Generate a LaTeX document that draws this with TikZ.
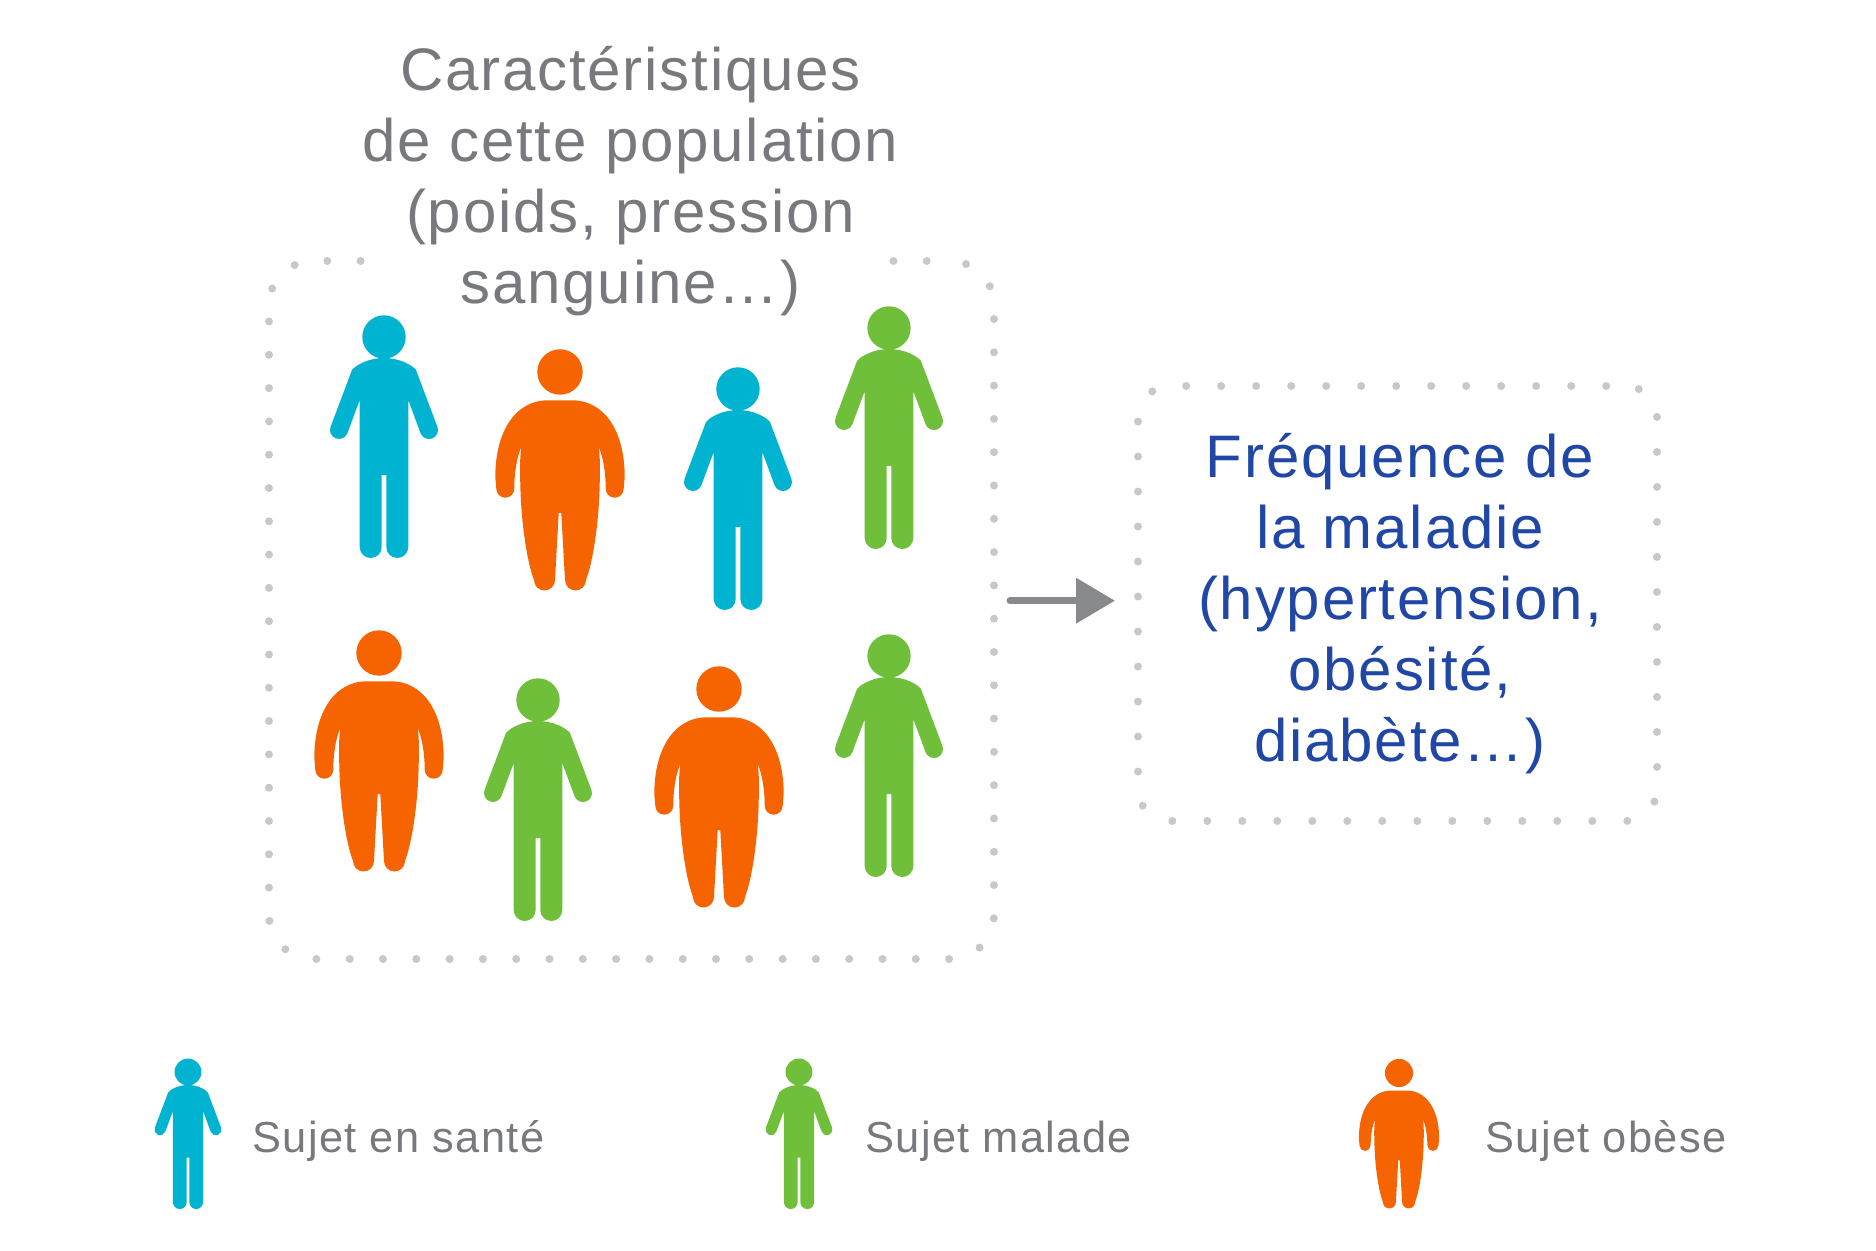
\documentclass[tikz,border=0pt]{standalone}
\usepackage{fontspec}
\setmainfont[LetterSpace=3]{Liberation Sans}
\usetikzlibrary{positioning, arrows.meta}
\definecolor{healthycolor}{HTML}{00B3D1}
\definecolor{sickcolor}{HTML}{6FBF3A}
\definecolor{obesecolor}{HTML}{F56400}
\definecolor{dotcolor}{HTML}{C8C8C8}
\definecolor{headcolor}{HTML}{77797D}
\definecolor{freqcolor}{HTML}{2047A5}
\definecolor{arrowcolor}{HTML}{87898C}
\tikzset{
	dotbox/.style={
		draw=dotcolor,
		line width=4pt,
		line cap=round,
		inner sep=0pt,
	},
	heading/.style={
		align=center,
		inner sep=0pt,
		font={\fontsize{30}{35.5}\selectfont},
	},
	legendlabel/.style={
		anchor=west,
		inner sep=0pt,
		text=headcolor,
		font={\fontsize{21.7}{24}\selectfont},
	},
	slim/.pic={
		\path[pic actions] (0,0) circle[radius=21.7];
		\path[pic actions] (0,21) .. controls (14,21) and (27,27) .. (32,33)
			-- (53.4,89.8) arc[start angle=-21, end angle=159, radius=9]
			-- (24.3,63) -- (24.3,210) arc[start angle=0, end angle=180, radius=11]
			-- (2.3,138) -- (-2.3,138) -- (-2.3,210) arc[start angle=0, end angle=180, radius=11]
			-- (-24.3,63) -- (-36.6,96.2) arc[start angle=21, end angle=201, radius=9]
			-- (-32,33) .. controls (-27,27) and (-14,21) .. cycle;
	},
	big/.pic={
		\path[pic actions] (0,0) circle[radius=22.7];
		\path[pic actions] (-12,28.3) -- (12,28.3)
			.. controls (45,28.3) and (64.7,60) .. (64.7,105)
			-- (63.7,116.7) arc[start angle=0, end angle=180, radius=9]
			.. controls (45.7,100) and (43,85) .. (38.7,75)
			.. controls (40.5,90) and (40,100) .. (39.7,112)
			.. controls (39,150) and (33,190) .. (26,208)
			arc[start angle=0, end angle=180, radius=10.5]
			-- (1.3,141) -- (-1.3,141) -- (-5,208)
			arc[start angle=0, end angle=180, radius=10.5]
			.. controls (-33,190) and (-39,150) .. (-39.7,112)
			.. controls (-40,100) and (-40.5,90) .. (-38.7,75)
			.. controls (-43,85) and (-45.7,100) .. (-45.7,116.7)
			arc[start angle=0, end angle=180, radius=9]
			-- (-64.7,105) .. controls (-64.7,60) and (-45,28.3) .. cycle;
	},
}

\begin{document}
\begin{tikzpicture}[x=0.5pt, y=-0.5pt]
\useasboundingbox (0,0) rectangle (1876,1251);

\node(popbox)[dotbox, rounded corners=22pt, dash pattern=on 0pt off 16.65pt, dash phase=5pt, minimum width=362.5pt, minimum height=349pt] at (631.5,610){};
\node(freqbox)[dotbox, rounded corners=16pt, dash pattern=on 0pt off 17.5pt, dash phase=8.1pt, minimum width=259.5pt, minimum height=217.5pt] at (1397.5,603.5){};

\node(caract)[heading, inner xsep=-6pt, fill=white, text=headcolor] at (630.5,181){Caractéristiques\\de cette population\\(poids, pression\\sanguine…)};
\node(freq)[heading, text=freqcolor] at (1400,603.5){Fréquence de\\la maladie\\(hypertension,\\obésité,\\diabète…)};

\pic[fill=healthycolor] at (384,337) {slim};
\pic[fill=healthycolor] at (738,389) {slim};
\pic[fill=sickcolor] at (889,328) {slim};
\pic[fill=sickcolor] at (538,700) {slim};
\pic[fill=sickcolor] at (889,656) {slim};
\pic[fill=obesecolor] at (560,372) {big};
\pic[fill=obesecolor] at (379,653) {big};
\pic[fill=obesecolor] at (719,689) {big};

\pic[fill=healthycolor, scale=0.62] at (188,1072) {slim};
\pic[fill=sickcolor, scale=0.62] at (799,1072) {slim};
\pic[fill=obesecolor, scale=0.62] at (1399,1073) {big};

\node(sante)[legendlabel] at (252,1141){Sujet en santé};
\node(malade)[legendlabel] at (865,1141){Sujet malade};
\node(obese)[legendlabel] at (1485,1141){Sujet obèse};

\draw[-{Triangle[length=19.5pt, width=22pt]}, draw=arrowcolor, fill=arrowcolor, line width=3.5pt, line cap=round, shorten <=6pt, shorten >=9.5pt]
	([yshift=1.4pt]popbox.east |- freqbox.west) -- ([yshift=1.4pt]freqbox.west);

\end{tikzpicture}
\end{document}
